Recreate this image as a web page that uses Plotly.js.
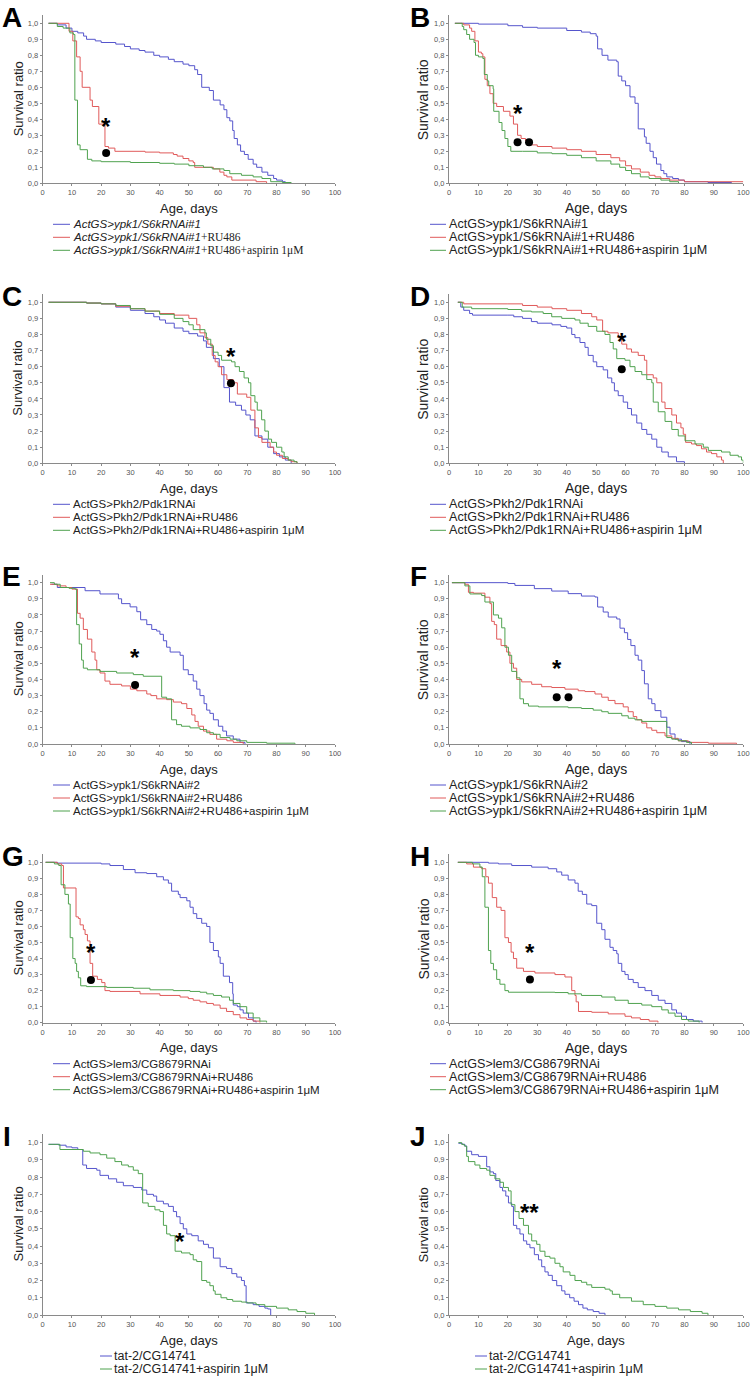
<!DOCTYPE html>
<html><head><meta charset="utf-8">
<script src="https://cdn.plot.ly/plotly-3.0.1.min.js"></script>
<style>html,body{margin:0;padding:0;background:#fff}#chart{width:750px;height:1376px}</style>
</head><body><div id="chart"></div>
<script>
// ---------------- DATA (day, survival ratio) ----------------
const A_blue_d = [2,5,8,10,12,14,15,18,20,25,28,30,33,35,38,40,43,45,48,50,52,53,54.4,57,58.4,60.7,62,63,64,65,65.5,66.6,67.7,69,70.3,72,73.2,75,77,79,80,82,83];
const A_blue_s = [1.0,0.99,0.97,0.95,0.94,0.92,0.9,0.89,0.88,0.87,0.855,0.84,0.83,0.82,0.8,0.79,0.775,0.76,0.745,0.735,0.71,0.68,0.6,0.58,0.52,0.49,0.46,0.41,0.39,0.33,0.28,0.24,0.2,0.18,0.15,0.12,0.1,0.07,0.05,0.03,0.02,0.01,0];
const A_red_d = [2,9,10.3,11.6,12.8,13.5,16.2,17,19.2,21.3,22.5,24.7,35,40,44.7,46,48,50,51.5,52,58.4,60.6,62,63,64.7,73,76.6];
const A_red_s = [1.0,0.95,0.89,0.79,0.7,0.6,0.52,0.48,0.37,0.23,0.22,0.2,0.195,0.19,0.18,0.17,0.155,0.14,0.13,0.1,0.09,0.07,0.05,0.04,0.02,0.01,0];
const A_green_d = [2,5,7,9.3,10.5,11,11.9,12.8,15.3,16.8,20,30,40,45,50,55,58,62,64,68,72,75,78,82,85];
const A_green_s = [1.0,0.98,0.97,0.94,0.93,0.52,0.24,0.21,0.15,0.14,0.135,0.13,0.125,0.12,0.11,0.1,0.09,0.08,0.06,0.05,0.04,0.03,0.01,0.005,0];

const B_blue_d = [2,10,20,25,30,40,45,48,50,50.5,52,54,57,57.5,58.7,60,61.5,63.2,64.3,66.4,67,68.3,69.4,70.5,72,73,74,76,78,80,88,96];
const B_blue_s = [1.0,0.995,0.985,0.975,0.97,0.955,0.945,0.935,0.92,0.84,0.8,0.77,0.76,0.67,0.64,0.61,0.54,0.5,0.34,0.29,0.25,0.2,0.16,0.12,0.08,0.06,0.04,0.03,0.02,0.01,0.005,0];
const B_red_d = [2,5,7,7.7,8.8,10,11,11.5,12.2,13,13.9,15,16.2,18.5,20.7,21.9,23.3,24.5,26,27.2,30,35,40,45,50,55,58,60,62,65,68,70,72,75,80,100];
const B_red_s = [1.0,0.99,0.97,0.95,0.89,0.82,0.81,0.79,0.65,0.61,0.56,0.5,0.48,0.45,0.42,0.37,0.3,0.28,0.265,0.24,0.23,0.22,0.21,0.2,0.18,0.16,0.14,0.11,0.09,0.07,0.05,0.04,0.03,0.02,0.01,0.01];
const B_green_d = [2,4.5,5,6,7,8.5,9,10,11.5,12,13,13.5,15,15.2,17,18,19,20,21,25,30,35,40,45,50,55,58,60,62,65,68,72,75,78];
const B_green_s = [1.0,0.98,0.96,0.93,0.9,0.88,0.8,0.79,0.78,0.68,0.64,0.61,0.59,0.45,0.38,0.33,0.28,0.23,0.2,0.2,0.19,0.185,0.175,0.16,0.14,0.12,0.1,0.08,0.06,0.04,0.03,0.02,0.01,0];

const C_blue_d = [2,15,20,25,30,35,38,40,42,45,48,50,53,55,56,58.4,60.4,62,63.9,66,68,69.5,71,72.6,75,77,79,81,83,85];
const C_blue_s = [1.0,0.995,0.99,0.97,0.95,0.93,0.91,0.89,0.87,0.84,0.82,0.805,0.79,0.76,0.72,0.65,0.6,0.47,0.38,0.36,0.33,0.3,0.27,0.17,0.15,0.1,0.06,0.04,0.02,0];
const C_red_d = [2,15,20,25,30,35,40,45,50,52.7,53.8,55.5,56.5,58,59,60,61.2,63,65.2,66.6,69.8,71.2,72.6,73.8,75,77.8,79,80,82,84,85,87];
const C_red_s = [1.0,0.995,0.99,0.975,0.96,0.945,0.93,0.92,0.9,0.86,0.81,0.78,0.74,0.67,0.63,0.6,0.55,0.52,0.5,0.43,0.41,0.33,0.22,0.16,0.13,0.1,0.07,0.05,0.03,0.02,0.01,0];
const C_green_d = [2,15,20,25,30,35,40,45,48,50,51.5,55.5,56,57.5,58.4,60,61.2,64.6,65.8,67.3,68.9,70.4,71.2,72.6,73.4,74.9,76,77.2,78.3,80,81.8,82.6,84,86,87];
const C_green_s = [1.0,0.995,0.99,0.98,0.96,0.945,0.925,0.9,0.88,0.86,0.83,0.81,0.77,0.73,0.69,0.67,0.64,0.63,0.6,0.57,0.53,0.5,0.42,0.38,0.33,0.27,0.2,0.15,0.13,0.1,0.07,0.04,0.02,0.01,0];

const D_blue_d = [3,4,5,7,8,20,22,25,28,30,35,38,40,41.7,42.8,44.5,46.2,47.3,49,50.2,52.4,53.9,55.3,56.2,57.5,59.2,60.7,62,63.8,65.5,67.2,68.9,70.6,72.3,74.5,77.3,80];
const D_blue_s = [1.0,0.97,0.95,0.93,0.92,0.92,0.91,0.9,0.88,0.87,0.86,0.85,0.84,0.8,0.78,0.75,0.72,0.67,0.63,0.6,0.58,0.53,0.5,0.45,0.42,0.38,0.34,0.3,0.25,0.21,0.18,0.15,0.1,0.07,0.04,0.01,0];
const D_red_d = [3,5,20,25,30,35,40,45,48.5,50.2,52.2,54,57.5,58.7,60.4,62,64.3,66.4,67.2,69.4,70.6,72.3,73.4,75.7,77.3,78.8,79.6,80.4,82.4,84.1,85.8,87.5,89.2,91,92.6,93.2];
const D_red_s = [1.0,0.99,0.99,0.98,0.97,0.96,0.95,0.93,0.91,0.89,0.82,0.81,0.78,0.74,0.71,0.69,0.67,0.64,0.55,0.53,0.5,0.38,0.34,0.3,0.25,0.22,0.18,0.13,0.12,0.11,0.09,0.07,0.06,0.04,0.02,0];
const D_green_d = [3,4.5,7.7,20,24.7,28,32,34.9,38.3,42.8,44.5,47.3,50.2,53,54.7,55.8,57,59.8,61.5,63.2,65.5,67.2,68.9,69.4,71.1,73.4,75.7,77.9,80.2,83.6,86.4,88.1,92.6,95.5,98.3,99.4,100];
const D_green_s = [1.0,0.97,0.96,0.955,0.945,0.94,0.93,0.91,0.9,0.89,0.87,0.85,0.82,0.8,0.75,0.71,0.65,0.64,0.6,0.57,0.55,0.52,0.5,0.38,0.32,0.26,0.21,0.17,0.14,0.12,0.1,0.08,0.07,0.05,0.04,0.02,0];

const E_blue_d = [3,5,14.5,19.6,25.9,27,29.9,32.2,33.5,35.6,37.3,39,40.1,41.3,42.4,43.6,47,48.1,49.8,51.5,52.7,53.8,55.2,56.1,57.2,58.4,60.1,61.6,62.9,65.2,67.5,69.2];
const E_blue_s = [0.99,0.97,0.95,0.93,0.9,0.87,0.85,0.82,0.77,0.74,0.71,0.7,0.68,0.64,0.6,0.57,0.55,0.46,0.43,0.39,0.34,0.3,0.25,0.21,0.19,0.15,0.11,0.08,0.05,0.03,0.01,0];
const E_red_d = [2.5,5,8,10,11.9,12.8,13.9,15.3,16.8,17.9,18.5,19.6,21.3,23,27,30,32.2,35.6,37,39,42.4,44.7,47.5,49.3,51,52.1,53.2,55,57.2,59.5,63,65.2,68.6];
const E_red_s = [0.99,0.98,0.97,0.96,0.81,0.78,0.71,0.65,0.57,0.52,0.46,0.44,0.39,0.37,0.36,0.34,0.33,0.31,0.3,0.28,0.275,0.26,0.25,0.22,0.18,0.14,0.11,0.08,0.06,0.03,0.02,0.01,0];
const E_green_d = [2.5,4,6,9,11.1,11.6,12.5,13.3,13.9,15.3,19.6,25.3,31,34.4,40.7,42.4,44.1,45.8,47.5,50.4,53.8,56.1,58.4,60.7,64.1,66.4,69.8,76.6,86.3];
const E_green_s = [1.0,0.99,0.97,0.965,0.96,0.74,0.62,0.52,0.47,0.46,0.45,0.44,0.43,0.42,0.29,0.28,0.15,0.12,0.11,0.1,0.09,0.07,0.06,0.04,0.03,0.02,0.01,0.005,0];

const F_blue_d = [1,20,22.4,29,34.9,40.5,45,49.6,50.5,52.4,54.1,57,58.1,59.6,60.7,61.8,63.2,64.3,65.5,66.4,67.7,68.9,70,72,74,75.1,76.8,79,81.9];
const F_blue_s = [1.0,0.995,0.983,0.963,0.948,0.932,0.917,0.911,0.849,0.818,0.787,0.775,0.718,0.69,0.648,0.61,0.55,0.52,0.455,0.373,0.28,0.25,0.207,0.166,0.104,0.062,0.03,0.015,0];
const F_red_d = [1,5.4,6.6,8.3,12.2,13.9,14.5,15.4,16.2,17.7,19.6,20.7,21.9,23,24.7,28.1,31.5,34.9,39.4,43.9,46.2,49.6,51.9,54.1,56.4,59.2,60.9,62.6,63.8,65.5,67.2,68.9,70.6,73.4,75.7,77.9,81.3,88.1,97.7];
const F_red_s = [1.0,0.99,0.94,0.935,0.91,0.87,0.76,0.74,0.65,0.61,0.57,0.5,0.47,0.4,0.385,0.37,0.355,0.35,0.34,0.33,0.325,0.31,0.29,0.27,0.25,0.23,0.2,0.17,0.15,0.13,0.1,0.085,0.07,0.05,0.035,0.02,0.01,0.005,0];
const F_green_d = [1,5.4,7.1,11.1,12.2,15.1,16.8,17.9,19,20.2,21.3,23,24.1,25.3,27,30.4,40.5,45,49,51.9,54.1,58.7,60.9,63.2,65.5,74,75.7,77.9,80.7,82.4];
const F_green_s = [1.0,0.98,0.93,0.92,0.88,0.8,0.78,0.72,0.6,0.55,0.45,0.41,0.28,0.25,0.235,0.23,0.225,0.22,0.21,0.2,0.19,0.175,0.16,0.15,0.14,0.04,0.03,0.02,0.01,0];

const G_blue_d = [1,5,20,23,27.6,31.6,35.6,39,41.3,43,44.1,46.4,47,49.3,50.4,51.5,52.7,54.4,56.1,57.2,58.4,60.1,60.7,61.8,63.9,65,65.2,66.6,67.5,68.6,70.4,72,73];
const G_blue_s = [1.0,0.995,0.99,0.98,0.955,0.935,0.93,0.91,0.89,0.87,0.82,0.8,0.78,0.76,0.72,0.68,0.65,0.62,0.6,0.5,0.45,0.41,0.37,0.29,0.25,0.18,0.11,0.1,0.08,0.06,0.03,0.01,0];
const G_red_d = [1,5,6.5,7.1,11.4,12.2,12.8,13.9,14.5,15.3,16.2,17.1,18.7,20.2,21.3,23,33.3,40.1,47,49.8,51.5,53.8,56.1,58.4,60.7,62.9,65.2,67.5,69.8,72,74.3];
const G_red_s = [1.0,0.99,0.98,0.84,0.66,0.65,0.61,0.58,0.55,0.51,0.37,0.29,0.27,0.25,0.2,0.195,0.18,0.17,0.16,0.15,0.14,0.13,0.12,0.11,0.09,0.07,0.05,0.03,0.02,0.01,0];
const G_green_d = [1,4,5.5,6.3,7.6,8.8,9.4,10.3,11.1,11.6,12.2,13,15,21.9,31,36.7,44.7,50.4,53.8,56.1,58.4,61.2,63.9,65.2,67.5,69.8,72,74.3,76.6];
const G_green_s = [1.0,0.99,0.98,0.86,0.8,0.74,0.53,0.4,0.37,0.32,0.28,0.23,0.225,0.22,0.215,0.205,0.2,0.195,0.19,0.18,0.17,0.16,0.14,0.12,0.1,0.06,0.03,0.01,0];

const H_blue_d = [3,13.4,16.8,21.3,28.1,33.7,36.6,38.3,40.5,42.8,43.9,45.3,46.8,48.5,50.2,51.9,53,54.7,55.8,57,57.5,58.7,59.8,60.9,62.6,64.3,66.6,68.9,71.1,73.4,75.7,77.3,79,80.7,83,86];
const H_blue_s = [1.0,0.995,0.99,0.98,0.97,0.96,0.94,0.92,0.89,0.87,0.82,0.8,0.74,0.73,0.62,0.58,0.52,0.47,0.45,0.43,0.37,0.32,0.3,0.27,0.25,0.22,0.2,0.17,0.14,0.12,0.08,0.06,0.04,0.02,0.01,0];
const H_red_d = [3,6,8.3,11.1,12.5,13.4,14.7,16.2,17.7,19,20.2,21.1,21.9,23,25.3,29.2,36,39.4,41.7,42.8,43.2,44,48.5,54.1,59.8,62,65,68,71];
const H_red_s = [1.0,0.99,0.97,0.96,0.91,0.87,0.78,0.72,0.7,0.53,0.5,0.44,0.4,0.34,0.32,0.31,0.3,0.285,0.2,0.17,0.13,0.07,0.065,0.055,0.04,0.03,0.02,0.01,0];
const H_green_d = [3,8,10.5,11.3,12.2,13.4,14.2,15.1,16.2,17.3,19,20.2,36,40.5,45,51.9,56.4,60.9,65.5,68.9,72.3,74.5,76.8,79,81.3,85];
const H_green_s = [1.0,0.99,0.97,0.91,0.72,0.45,0.37,0.33,0.27,0.24,0.2,0.19,0.188,0.18,0.17,0.16,0.14,0.12,0.11,0.1,0.08,0.06,0.04,0.02,0.01,0];

const I_blue_d = [2,5.5,8,10,12,13.7,15,18.5,19.6,22.5,25.3,27.6,31,33.9,35.6,37.9,39,41.3,43,44.7,45.8,47,48.1,49.3,51,53.2,55,56.7,58.4,60.7,62.9,64.7,66.4,68,69,69.6,72,74,76,77,78];
const I_blue_s = [0.99,0.985,0.975,0.97,0.96,0.87,0.85,0.84,0.81,0.79,0.77,0.75,0.74,0.725,0.7,0.69,0.66,0.645,0.63,0.6,0.57,0.53,0.5,0.47,0.46,0.43,0.41,0.39,0.33,0.28,0.27,0.24,0.22,0.2,0.17,0.07,0.06,0.05,0.04,0.035,0];
const I_green_d = [2,5.9,13.9,16.2,19.6,21.9,24.7,27,29.3,31,32.7,34.2,36.1,38.4,40.1,41.3,42.4,43.6,45.3,47.5,50.4,51.5,52.7,54.4,56.1,57.2,58.4,59,61,63,65,68,70,73,76,80,84,87,90,93];
const I_green_s = [0.99,0.96,0.95,0.94,0.93,0.91,0.89,0.87,0.86,0.84,0.82,0.65,0.63,0.61,0.6,0.52,0.47,0.46,0.37,0.36,0.35,0.32,0.31,0.2,0.19,0.17,0.14,0.12,0.1,0.09,0.08,0.075,0.07,0.06,0.05,0.04,0.03,0.02,0.01,0];

const J_blue_d = [3.2,4.5,5.4,6,7.7,10,12.8,13.9,15.1,15.9,17.3,18.2,19.3,20.2,21.3,21.9,23,24.1,25.3,26.4,27.5,29,30.4,31.5,32.6,33.7,35.1,36.6,38.3,39.4,41,42.5,44,45.5,47,49,51,53];
const J_blue_s = [0.996,0.99,0.98,0.95,0.93,0.92,0.86,0.83,0.82,0.78,0.74,0.72,0.69,0.65,0.63,0.52,0.5,0.47,0.43,0.41,0.39,0.35,0.32,0.28,0.25,0.23,0.2,0.17,0.14,0.12,0.1,0.08,0.06,0.04,0.03,0.02,0.01,0];
const J_green_d = [3.2,4.3,5.2,6,6.6,8.8,10.5,12.8,13.9,15.6,17.3,18.5,20.2,21.1,22.4,23.8,25.3,27,28.1,29.8,30.9,32.6,34.3,36,37.7,38.8,41.1,42.8,45,46.8,48.5,53,54.7,55.5,58,62,66,70,74,78,82,86,88];
const J_green_s = [1.0,0.99,0.98,0.92,0.89,0.87,0.85,0.84,0.81,0.79,0.77,0.74,0.72,0.64,0.6,0.56,0.52,0.47,0.43,0.41,0.37,0.34,0.33,0.3,0.28,0.25,0.23,0.2,0.19,0.175,0.16,0.15,0.14,0.12,0.1,0.08,0.06,0.05,0.04,0.03,0.02,0.01,0];

// ---------------- LABELS ----------------
const SER = 'font-family:Liberation Serif,Times New Roman,serif';
const legend_A = ['<i>ActGS&gt;ypk1/S6kRNAi#1</i>',
  '<i>ActGS&gt;ypk1/S6kRNAi#1</i><span style="'+SER+'">+RU486</span>',
  '<i>ActGS&gt;ypk1/S6kRNAi#1</i><span style="'+SER+'">+RU486+aspirin 1μM</span>'];
const legend_B = ['ActGS&gt;ypk1/S6kRNAi#1','ActGS&gt;ypk1/S6kRNAi#1+RU486','ActGS&gt;ypk1/S6kRNAi#1+RU486+aspirin 1μM'];
const legend_CD = ['ActGS&gt;Pkh2/Pdk1RNAi','ActGS&gt;Pkh2/Pdk1RNAi+RU486','ActGS&gt;Pkh2/Pdk1RNAi+RU486+aspirin 1μM'];
const legend_EF = ['ActGS&gt;ypk1/S6kRNAi#2','ActGS&gt;ypk1/S6kRNAi#2+RU486','ActGS&gt;ypk1/S6kRNAi#2+RU486+aspirin 1μM'];
const legend_GH = ['ActGS&gt;lem3/CG8679RNAi','ActGS&gt;lem3/CG8679RNAi+RU486','ActGS&gt;lem3/CG8679RNAi+RU486+aspirin 1μM'];
const legend_IJ = ['tat-2/CG14741','tat-2/CG14741+aspirin 1μM'];

const xTitle = 'Age, days';
const yTitle = 'Survival ratio';

// significance marks (day, ratio)
const marks = {
  A:{star:[21.7,0.385], dots:[[21.7,0.19]]},
  B:{star:[23.3,0.467], dots:[[23.3,0.257],[27.2,0.257]]},
  C:{star:[64.4,0.693], dots:[[64.4,0.497]]},
  D:{star:[58.7,0.786], dots:[[58.7,0.584]]},
  E:{star:[31.6,0.566], dots:[[31.6,0.366]]},
  F:{star:[36.6,0.498], dots:[[36.6,0.29],[40.6,0.29]]},
  G:{star:[16.5,0.468], dots:[[16.5,0.266]]},
  H:{star:[27.5,0.47], dots:[[27.5,0.27]]},
  I:{star:[47,0.454], dots:[]},
  J:{star:[27.2,0.623], dots:[], text:'**'}
};

// ---------------- BUILD ----------------
const W = 750, H = 1376;
const BLUE = '#5555cc', RED = '#e05a5a', GREEN = '#4fa24f';
const colX = [[42.7,335],[449,743.3]];
const rowY = [[15.3,183.3],[294.2,463.3],[574.6,744],[854.3,1022.7],[1134,1315]];
const legX = [[53,70,72],[430,446,448]];
const legXIJ = [[100,112,113],[475,487,488]];
const legFS = [11.5, 12.6];
const letterX = [0,408];

const panels = [
  {id:'A', c:0, r:0, s:[[A_blue_d,A_blue_s,BLUE],[A_red_d,A_red_s,RED],[A_green_d,A_green_s,GREEN]], leg:legend_A},
  {id:'B', c:1, r:0, s:[[B_blue_d,B_blue_s,BLUE],[B_red_d,B_red_s,RED],[B_green_d,B_green_s,GREEN]], leg:legend_B},
  {id:'C', c:0, r:1, s:[[C_blue_d,C_blue_s,BLUE],[C_red_d,C_red_s,RED],[C_green_d,C_green_s,GREEN]], leg:legend_CD},
  {id:'D', c:1, r:1, s:[[D_blue_d,D_blue_s,BLUE],[D_red_d,D_red_s,RED],[D_green_d,D_green_s,GREEN]], leg:legend_CD},
  {id:'E', c:0, r:2, s:[[E_blue_d,E_blue_s,BLUE],[E_red_d,E_red_s,RED],[E_green_d,E_green_s,GREEN]], leg:legend_EF},
  {id:'F', c:1, r:2, s:[[F_blue_d,F_blue_s,BLUE],[F_red_d,F_red_s,RED],[F_green_d,F_green_s,GREEN]], leg:legend_EF},
  {id:'G', c:0, r:3, s:[[G_blue_d,G_blue_s,BLUE],[G_red_d,G_red_s,RED],[G_green_d,G_green_s,GREEN]], leg:legend_GH},
  {id:'H', c:1, r:3, s:[[H_blue_d,H_blue_s,BLUE],[H_red_d,H_red_s,RED],[H_green_d,H_green_s,GREEN]], leg:legend_GH},
  {id:'I', c:0, r:4, s:[[I_blue_d,I_blue_s,BLUE],[I_green_d,I_green_s,GREEN]], leg:legend_IJ},
  {id:'J', c:1, r:4, s:[[J_blue_d,J_blue_s,BLUE],[J_green_d,J_green_s,GREEN]], leg:legend_IJ}
];

const FONT = 'Liberation Sans, Arial, sans-serif';
const px = v => v / W;
const py = v => 1 - v / H;
const traces = [];
const annotations = [];
const shapes = [];
const layout = {
  width: W, height: H, margin:{l:0,r:0,t:0,b:0},
  paper_bgcolor:'#fff', plot_bgcolor:'rgba(0,0,0,0)',
  showlegend:false, separators:', ',
  font:{family:FONT, color:'#222', size:12}
};

panels.forEach((p, i) => {
  const k = i + 1;
  const xa = 'x' + k, ya = 'y' + k;
  const [x0, x1] = colX[p.c];
  const [yt, yb] = rowY[p.r];
  const axCommon = {showgrid:false, zeroline:false, showline:true, linecolor:'#8a8a8a', linewidth:1,
    ticks:'outside', ticklen:2, tickcolor:'#8a8a8a', tickfont:{size:7.5, color:'#555', family:FONT}, fixedrange:true};
  layout['xaxis' + k] = Object.assign({}, axCommon, {domain:[px(x0), px(x1)], range:[0,100], dtick:10, tick0:0, anchor:ya});
  layout['yaxis' + k] = Object.assign({}, axCommon, {domain:[py(yb), py(yt)], range:[0,1.05], dtick:0.1, tick0:0, tickformat:'.1f', anchor:xa});

  p.s.forEach(([d, s, col]) => {
    traces.push({type:'scatter', mode:'lines', x:d, y:s, xaxis:xa, yaxis:ya,
      line:{shape:'hv', color:col, width:1}, hoverinfo:'skip'});
  });

  const isIJ = p.leg.length === 2;
  const titleFS = (p.c === 1 && !isIJ) ? 14 : 13;

  // panel letter
  const letterY = yt + 2;
  annotations.push({xref:'paper', yref:'paper', x:px(letterX[p.c] + (p.id==='I'?1:0)), y:py(letterY), xanchor:'left', yanchor:'middle',
    text:'<b>' + p.id + '</b>', showarrow:false, font:{size:28, color:'#000', family:FONT}});
  // axis titles
  annotations.push({xref:'paper', yref:'paper', x:px(p.c===0 ? 18 : 423), y:py((yt+yb)/2), xanchor:'center', yanchor:'middle',
    text:yTitle, textangle:-90, showarrow:false, font:{size:titleFS, color:'#222', family:FONT}});
  annotations.push({xref:'paper', yref:'paper', x:px((x0+x1)/2), y:py(yb + 25), xanchor:'center', yanchor:'middle',
    text:xTitle, showarrow:false, font:{size:titleFS, color:'#222', family:FONT}});

  // legend (drawn manually)
  const lx = isIJ ? legXIJ[p.c] : legX[p.c];
  const fs = isIJ ? 12.5 : legFS[p.c];
  p.leg.forEach((t, j) => {
    const ly = yb + 41 + 13 * j;
    shapes.push({type:'line', xref:'paper', yref:'paper', x0:px(lx[0]), x1:px(lx[1]), y0:py(ly), y1:py(ly),
      line:{color:p.s[j][2], width:1}});
    annotations.push({xref:'paper', yref:'paper', x:px(lx[2] - 1), y:py(ly), xanchor:'left', yanchor:'middle',
      text:t, showarrow:false, align:'left', font:{size:fs, color:'#222', family:FONT}});
  });

  // significance marks
  const m = marks[p.id];
  annotations.push({xref:xa, yref:ya, x:m.star[0], y:m.star[1], xanchor:'center', yanchor:'middle', yshift:-5,
    text:'<b>' + (m.text || '*') + '</b>', showarrow:false, font:{size:24, color:'#000', family:FONT}});
  m.dots.forEach(([dx, dy]) => {
    shapes.push({type:'circle', xref:xa, yref:ya, xsizemode:'pixel', ysizemode:'pixel', xanchor:dx, yanchor:dy,
      x0:-4, x1:4, y0:-4, y1:4, fillcolor:'#000', line:{width:0}});
  });
});

layout.annotations = annotations;
layout.shapes = shapes;
Plotly.newPlot('chart', traces, layout, {displayModeBar:false, staticPlot:true});
</script>
</body></html>
